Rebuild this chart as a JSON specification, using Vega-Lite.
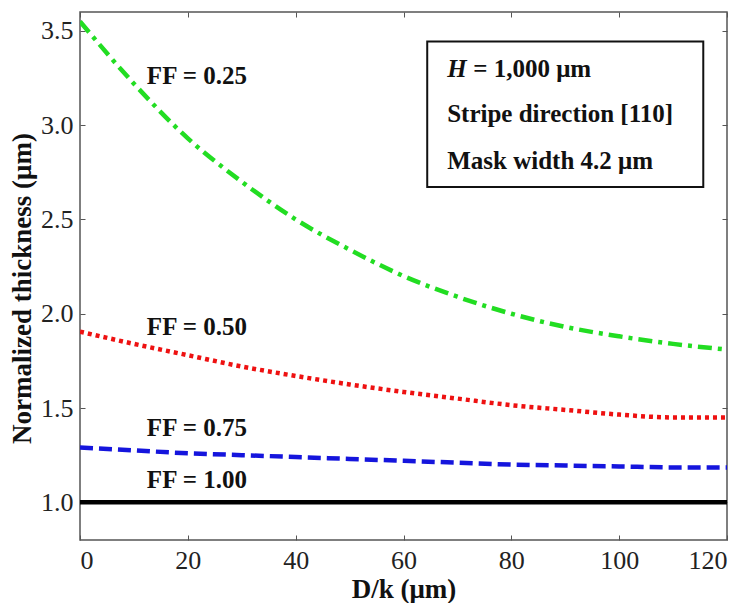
{
  "$schema": "https://vega.github.io/schema/vega-lite/v6.json",
  "width": 647,
  "height": 528,
  "autosize": {"type": "none"},
  "padding": {"left": 80, "top": 12, "right": 21, "bottom": 63},
  "background": "white",
  "config": {
    "view": {"stroke": "#555555", "strokeWidth": 1.5},
    "font": "Liberation Serif",
    "axis": {
      "grid": false,
      "labelFont": "Liberation Serif",
      "labelFontSize": 26,
      "labelColor": "#222222",
      "titleFont": "Liberation Serif",
      "titleFontSize": 27,
      "titleFontWeight": "bold",
      "titleColor": "#111111",
      "domain": false,
      "tickColor": "#555555",
      "tickSize": -5
    }
  },
  "datasets": {
    "curves": [
      {"D": 0, "value": 3.55, "series": "FF = 0.25"},
      {"D": 10, "value": 3.22, "series": "FF = 0.25"},
      {"D": 20, "value": 2.93, "series": "FF = 0.25"},
      {"D": 30, "value": 2.70, "series": "FF = 0.25"},
      {"D": 40, "value": 2.50, "series": "FF = 0.25"},
      {"D": 50, "value": 2.34, "series": "FF = 0.25"},
      {"D": 60, "value": 2.20, "series": "FF = 0.25"},
      {"D": 70, "value": 2.09, "series": "FF = 0.25"},
      {"D": 80, "value": 2.00, "series": "FF = 0.25"},
      {"D": 90, "value": 1.93, "series": "FF = 0.25"},
      {"D": 100, "value": 1.88, "series": "FF = 0.25"},
      {"D": 110, "value": 1.84, "series": "FF = 0.25"},
      {"D": 120, "value": 1.81, "series": "FF = 0.25"},
      {"D": 0, "value": 1.905, "series": "FF = 0.50"},
      {"D": 10, "value": 1.84, "series": "FF = 0.50"},
      {"D": 20, "value": 1.78, "series": "FF = 0.50"},
      {"D": 30, "value": 1.72, "series": "FF = 0.50"},
      {"D": 40, "value": 1.67, "series": "FF = 0.50"},
      {"D": 50, "value": 1.625, "series": "FF = 0.50"},
      {"D": 60, "value": 1.585, "series": "FF = 0.50"},
      {"D": 70, "value": 1.55, "series": "FF = 0.50"},
      {"D": 80, "value": 1.515, "series": "FF = 0.50"},
      {"D": 90, "value": 1.49, "series": "FF = 0.50"},
      {"D": 100, "value": 1.465, "series": "FF = 0.50"},
      {"D": 110, "value": 1.45, "series": "FF = 0.50"},
      {"D": 120, "value": 1.45, "series": "FF = 0.50"},
      {"D": 0, "value": 1.29, "series": "FF = 0.75"},
      {"D": 10, "value": 1.275, "series": "FF = 0.75"},
      {"D": 20, "value": 1.26, "series": "FF = 0.75"},
      {"D": 30, "value": 1.25, "series": "FF = 0.75"},
      {"D": 40, "value": 1.24, "series": "FF = 0.75"},
      {"D": 50, "value": 1.23, "series": "FF = 0.75"},
      {"D": 60, "value": 1.22, "series": "FF = 0.75"},
      {"D": 70, "value": 1.21, "series": "FF = 0.75"},
      {"D": 80, "value": 1.20, "series": "FF = 0.75"},
      {"D": 90, "value": 1.195, "series": "FF = 0.75"},
      {"D": 100, "value": 1.19, "series": "FF = 0.75"},
      {"D": 110, "value": 1.185, "series": "FF = 0.75"},
      {"D": 120, "value": 1.185, "series": "FF = 0.75"},
      {"D": 0, "value": 1.0, "series": "FF = 1.00"},
      {"D": 60, "value": 1.0, "series": "FF = 1.00"},
      {"D": 120, "value": 1.0, "series": "FF = 1.00"}
    ],
    "labels": [
      {"D": 12.4, "value": 3.26, "label": "FF = 0.25"},
      {"D": 12.4, "value": 1.93, "label": "FF = 0.50"},
      {"D": 12.4, "value": 1.395, "label": "FF = 0.75"},
      {"D": 12.4, "value": 1.12, "label": "FF = 1.00"}
    ],
    "box": [
      {"x1": 64.4, "x2": 115.6, "y1": 3.444, "y2": 2.672}
    ],
    "boxitalic": [
      {"D": 68.1, "value": 3.30, "label": "H"}
    ],
    "boxtext": [
      {"D": 68.1, "value": 3.058, "label": "Stripe direction [110]"},
      {"D": 68.1, "value": 2.81, "label": "Mask width 4.2 μm"}
    ],
    "boxtext2": [
      {"D": 68.1, "value": 3.30, "label": "= 1,000 μm"}
    ]
  },
  "layer": [
    {
      "data": {"name": "curves"},
      "mark": {"type": "line", "strokeWidth": 4.5, "interpolate": "monotone", "clip": true},
      "encoding": {
        "x": {"field": "D", "type": "quantitative", "scale": {"domain": [0, 120], "nice": false},
              "axis": {"values": [0, 20, 40, 60, 80, 100, 120], "title": "D/k (μm)", "labelPadding": 12, "titlePadding": 3}},
        "y": {"field": "value", "type": "quantitative", "scale": {"domain": [0.8, 3.6], "nice": false, "zero": false},
              "axis": {"values": [1, 1.5, 2, 2.5, 3, 3.5], "format": ".1f", "title": "Normalized thickness (μm)", "labelPadding": 12, "titlePadding": 4, "titleY": 276}},
        "color": {"field": "series", "type": "nominal", "legend": null,
                  "scale": {"domain": ["FF = 0.25", "FF = 0.50", "FF = 0.75", "FF = 1.00"], "range": ["#22dd22", "#ee1111", "#1515dd", "#000000"]}},
        "strokeDash": {"field": "series", "type": "nominal", "legend": null,
                  "scale": {"domain": ["FF = 0.25", "FF = 0.50", "FF = 0.75", "FF = 1.00"], "range": [[14, 6, 4, 6], [4, 4], [13, 6], [1, 0]]}}
      }
    },
    {
      "data": {"name": "labels"},
      "mark": {"type": "text", "align": "left", "baseline": "middle", "fontWeight": "bold", "fontSize": 25, "font": "Liberation Serif", "color": "#111111"},
      "encoding": {
        "x": {"field": "D", "type": "quantitative", "axis": null},
        "y": {"field": "value", "type": "quantitative", "axis": null},
        "text": {"field": "label"}
      }
    },
    {
      "data": {"name": "box"},
      "mark": {"type": "rect", "fill": "white", "stroke": "#111111", "strokeWidth": 2},
      "encoding": {
        "x": {"field": "x1", "type": "quantitative", "axis": null},
        "x2": {"field": "x2"},
        "y": {"field": "y1", "type": "quantitative", "axis": null},
        "y2": {"field": "y2"}
      }
    },
    {
      "data": {"name": "boxitalic"},
      "mark": {"type": "text", "align": "left", "baseline": "middle", "fontWeight": "bold", "fontStyle": "italic", "fontSize": 25, "font": "Liberation Serif", "color": "#111111"},
      "encoding": {
        "x": {"field": "D", "type": "quantitative", "axis": null},
        "y": {"field": "value", "type": "quantitative", "axis": null},
        "text": {"field": "label"}
      }
    },
    {
      "data": {"name": "boxtext"},
      "mark": {"type": "text", "align": "left", "baseline": "middle", "fontWeight": "bold", "fontSize": 25, "font": "Liberation Serif", "color": "#111111"},
      "encoding": {
        "x": {"field": "D", "type": "quantitative", "axis": null},
        "y": {"field": "value", "type": "quantitative", "axis": null},
        "text": {"field": "label"}
      }
    },
    {
      "data": {"name": "boxtext2"},
      "mark": {"type": "text", "align": "left", "baseline": "middle", "fontWeight": "bold", "fontSize": 25, "font": "Liberation Serif", "color": "#111111", "dx": 26},
      "encoding": {
        "x": {"field": "D", "type": "quantitative", "axis": null},
        "y": {"field": "value", "type": "quantitative", "axis": null},
        "text": {"field": "label"}
      }
    },
    {
      "data": {"name": "curves"},
      "mark": {"type": "point", "opacity": 0},
      "encoding": {
        "x": {"field": "D", "type": "quantitative",
              "axis": {"orient": "top", "values": [0, 20, 40, 60, 80, 100, 120], "labels": false, "title": null}},
        "y": {"field": "value", "type": "quantitative",
              "axis": {"orient": "right", "values": [1, 1.5, 2, 2.5, 3, 3.5], "labels": false, "title": null}}
      }
    }
  ],
  "resolve": {"axis": {"x": "independent", "y": "independent"}}
}
